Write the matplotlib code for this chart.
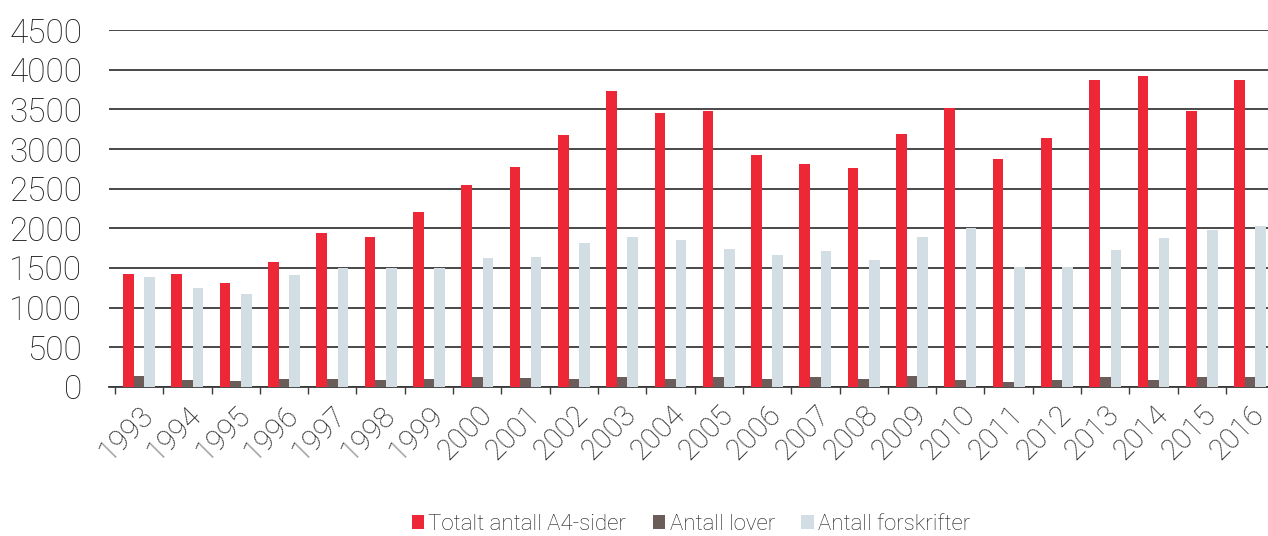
import numpy as np
import matplotlib.pyplot as plt

years = ['1993', '1994', '1995', '1996', '1997', '1998', '1999', '2000', '2001', '2002', '2003', '2004',
         '2005', '2006', '2007', '2008', '2009', '2010', '2011', '2012', '2013', '2014', '2015', '2016']
a4_pages = [1420, 1420, 1305, 1580, 1935, 1895, 2205, 2540, 2770, 3175, 3735, 3460,
            3475, 2925, 2805, 2755, 3185, 3515, 2870, 3145, 3875, 3920, 3475, 3875]
laws = [135, 85, 80, 105, 95, 85, 105, 120, 110, 105, 125, 95,
        125, 105, 125, 105, 135, 85, 60, 85, 125, 85, 125, 120]
regulations = [1390, 1245, 1175, 1410, 1500, 1500, 1500, 1620, 1635, 1815, 1895, 1850,
               1740, 1660, 1715, 1605, 1890, 2010, 1510, 1510, 1725, 1880, 1980, 2025]

series = [('Totalt antall A4-sider', a4_pages, '#ee2737'),
          ('Antall lover', laws, '#6d5d5a'),
          ('Antall forskrifter', regulations, '#d3dee4')]

plt.rcParams['font.family'] = ['Roboto', 'DejaVu Sans']
plt.rcParams['font.weight'] = 'light'

fig = plt.figure(figsize=(12.68, 5.36), dpi=100)
ax = fig.add_axes([0.0856, 0.278, 0.9144, 0.666])

x = np.arange(len(years))
w = 0.22
for k, (name, vals, col) in enumerate(series):
    ax.bar(x + (k - 1) * w, vals, width=w, color=col, label=name, zorder=3)

ax.set_ylim(0, 4500)
ax.set_xlim(-0.633, 23.37)
ax.set_yticks(np.arange(0, 4501, 500))
ax.yaxis.grid(True, color='#3a3a3a', lw=1.3, zorder=0)
ax.tick_params(axis='y', length=0, labelsize=24, pad=19, labelcolor='#1e1a1b')
for s in ['top', 'right', 'left']:
    ax.spines[s].set_visible(False)
ax.spines['bottom'].set_color('#3a3a3a')
ax.spines['bottom'].set_linewidth(1.3)

ax.set_xticks(x)
ax.set_xticklabels(years, rotation=45, ha='right', rotation_mode='anchor', fontsize=21, color='#1e1a1b')
ax.tick_params(axis='x', which='major', length=0, pad=10)
ax.set_xticks(np.arange(-0.5, 23.5, 1), minor=True)
ax.tick_params(axis='x', which='minor', length=5, color='#3a3a3a', width=1)

fig.legend(loc='lower center', bbox_to_anchor=(0.545, -0.035), ncol=3, frameon=False, fontsize=16,
           handlelength=0.55, handleheight=0.55, handletextpad=0.2, columnspacing=1.2,
           labelcolor='#1e1a1b')

fig.savefig('out.png', dpi=100)
